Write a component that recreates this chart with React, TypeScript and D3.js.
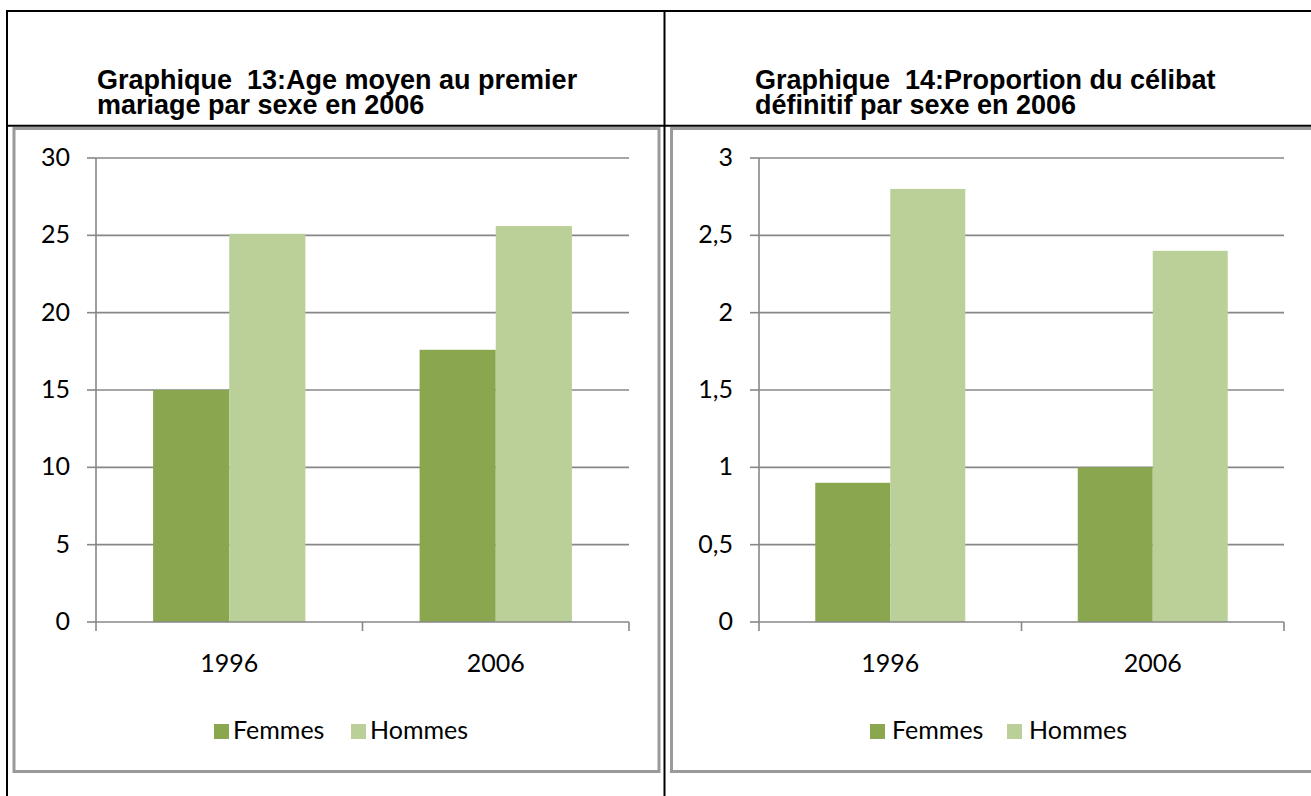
import React from 'react';
import * as d3 from 'd3';

// chart values
const years = ['1996', '2006'];
const seriesNames = ['Femmes', 'Hommes'];
const ageFemmes = [15.0, 17.6];
const ageHommes = [25.1, 25.6];
const celibatFemmes = [0.9, 1.0];
const celibatHommes = [2.8, 2.4];
const ageTicks = [0, 5, 10, 15, 20, 25, 30];
const celibatTicks = [0, 0.5, 1, 1.5, 2, 2.5, 3];
const title13 = ['Graphique  13:Age moyen au premier', 'mariage par sexe en 2006'];
const title14 = ['Graphique  14:Proportion du célibat', 'définitif par sexe en 2006'];

const colors = ['#8aa64e', '#bbcf99'];
const gridColor = '#878787';
const tickFont = 'Lato, "Open Sans", sans-serif';
const titleFont = '"Liberation Sans", Arial, sans-serif';

const frFormat = d3.formatLocale({ decimal: ',', thousands: ' ', grouping: [3], currency: ['', '€'] }).format('~g');

type PanelProps = {
  series: number[][];
  ticks: number[];
  x0: number;
  x1: number;
  labelRight: number;
  legendX: number;
  legendGap: number;
  titleX: number;
  title: string[];
};

const yTop = 158;
const yBottom = 622;

const Panel = ({ series, ticks, x0, x1, labelRight, legendX, legendGap, titleX, title }: PanelProps) => {
  const y = d3.scaleLinear().domain([0, d3.max(ticks) as number]).range([yBottom, yTop]);
  const x = d3.scaleBand().domain(years).range([x0, x1]).padding(0);
  // excel style: gap width 150%
  const barW = x.bandwidth() / (seriesNames.length + 1.5);
  const inner = d3.scaleBand().domain(seriesNames).range([0, barW * seriesNames.length]);
  const offset = (x.bandwidth() - barW * seriesNames.length) / 2;
  const bounds = [x0, ...years.map(d => (x(d) as number) + x.bandwidth())];

  return (
    <g>
      {title.map((line, i) => (
        <text key={i} x={titleX} y={89 + i * 25}
          fontFamily={titleFont} fontWeight="bold" fontSize={27} fill="#000" style={{ whiteSpace: 'pre' }}>
          {line}
        </text>
      ))}

      {ticks.map(t => (
        <g key={t}>
          {t > 0 && <line x1={x0} x2={x1} y1={y(t)} y2={y(t)} stroke={gridColor} strokeWidth={1.6} />}
          <line x1={x0 - 9} x2={x0} y1={y(t)} y2={y(t)} stroke={gridColor} strokeWidth={1.6} />
          <text x={labelRight} y={y(t) + 8} textAnchor="end" fontFamily={tickFont} fontSize={25} fill="#000">
            {frFormat(t)}
          </text>
        </g>
      ))}

      {series.map((vals, si) =>
        vals.map((v, i) => (
          <rect
            key={`${si}-${i}`}
            x={(x(years[i]) as number) + offset + (inner(seriesNames[si]) as number)}
            y={y(v)}
            width={barW}
            height={y(0) - y(v)}
            fill={colors[si]}
          />
        ))
      )}

      <line x1={x0} x2={x0} y1={yTop} y2={yBottom} stroke={gridColor} strokeWidth={1.6} />
      <line x1={x0} x2={x1} y1={yBottom} y2={yBottom} stroke={gridColor} strokeWidth={1.6} />
      {bounds.map(b => (
        <line key={b} x1={b} x2={b} y1={yBottom} y2={yBottom + 9} stroke={gridColor} strokeWidth={1.6} />
      ))}

      {years.map(d => (
        <text key={d} x={(x(d) as number) + x.bandwidth() / 2} y={672} textAnchor="middle" fontFamily={tickFont} fontSize={25} fill="#000">
          {d}
        </text>
      ))}

      {seriesNames.map((s, si) => (
        <g key={s} transform={`translate(${legendX + si * 137},724)`}>
          <rect width={15} height={15} fill={colors[si]} />
          <text x={15 + legendGap} y={15} fontFamily={tickFont} fontSize={25} fill="#000">{s}</text>
        </g>
      ))}
    </g>
  );
};

export default function App() {
  return (
    <svg width={1311} height={796} style={{ position: 'absolute', left: 0, top: 0, display: 'block', background: '#fff' }}>
      <rect width={1311} height={796} fill="#fff" />
      {/* table borders */}
      <line x1={6} x2={1311} y1={11} y2={11} stroke="#000" strokeWidth={2} />
      <line x1={7} x2={7} y1={10} y2={796} stroke="#000" strokeWidth={2} />
      <line x1={664.5} x2={664.5} y1={10} y2={796} stroke="#000" strokeWidth={2} />
      <line x1={6} x2={1311} y1={125.7} y2={125.7} stroke="#000" strokeWidth={2} />
      {/* chart frames */}
      <rect x={14} y={128.5} width={645} height={643} fill="none" stroke="#9a9a9a" strokeWidth={3} />
      <rect x={671.5} y={128.5} width={700} height={643} fill="none" stroke="#9a9a9a" strokeWidth={3} />

      <Panel series={[ageFemmes, ageHommes]} ticks={ageTicks} x0={96} x1={629} labelRight={70}
        legendX={214} legendGap={4} titleX={97} title={title13} />
      <Panel series={[celibatFemmes, celibatHommes]} ticks={celibatTicks} x0={759} x1={1284} labelRight={733}
        legendX={870} legendGap={7} titleX={755} title={title14} />
    </svg>
  );
}
